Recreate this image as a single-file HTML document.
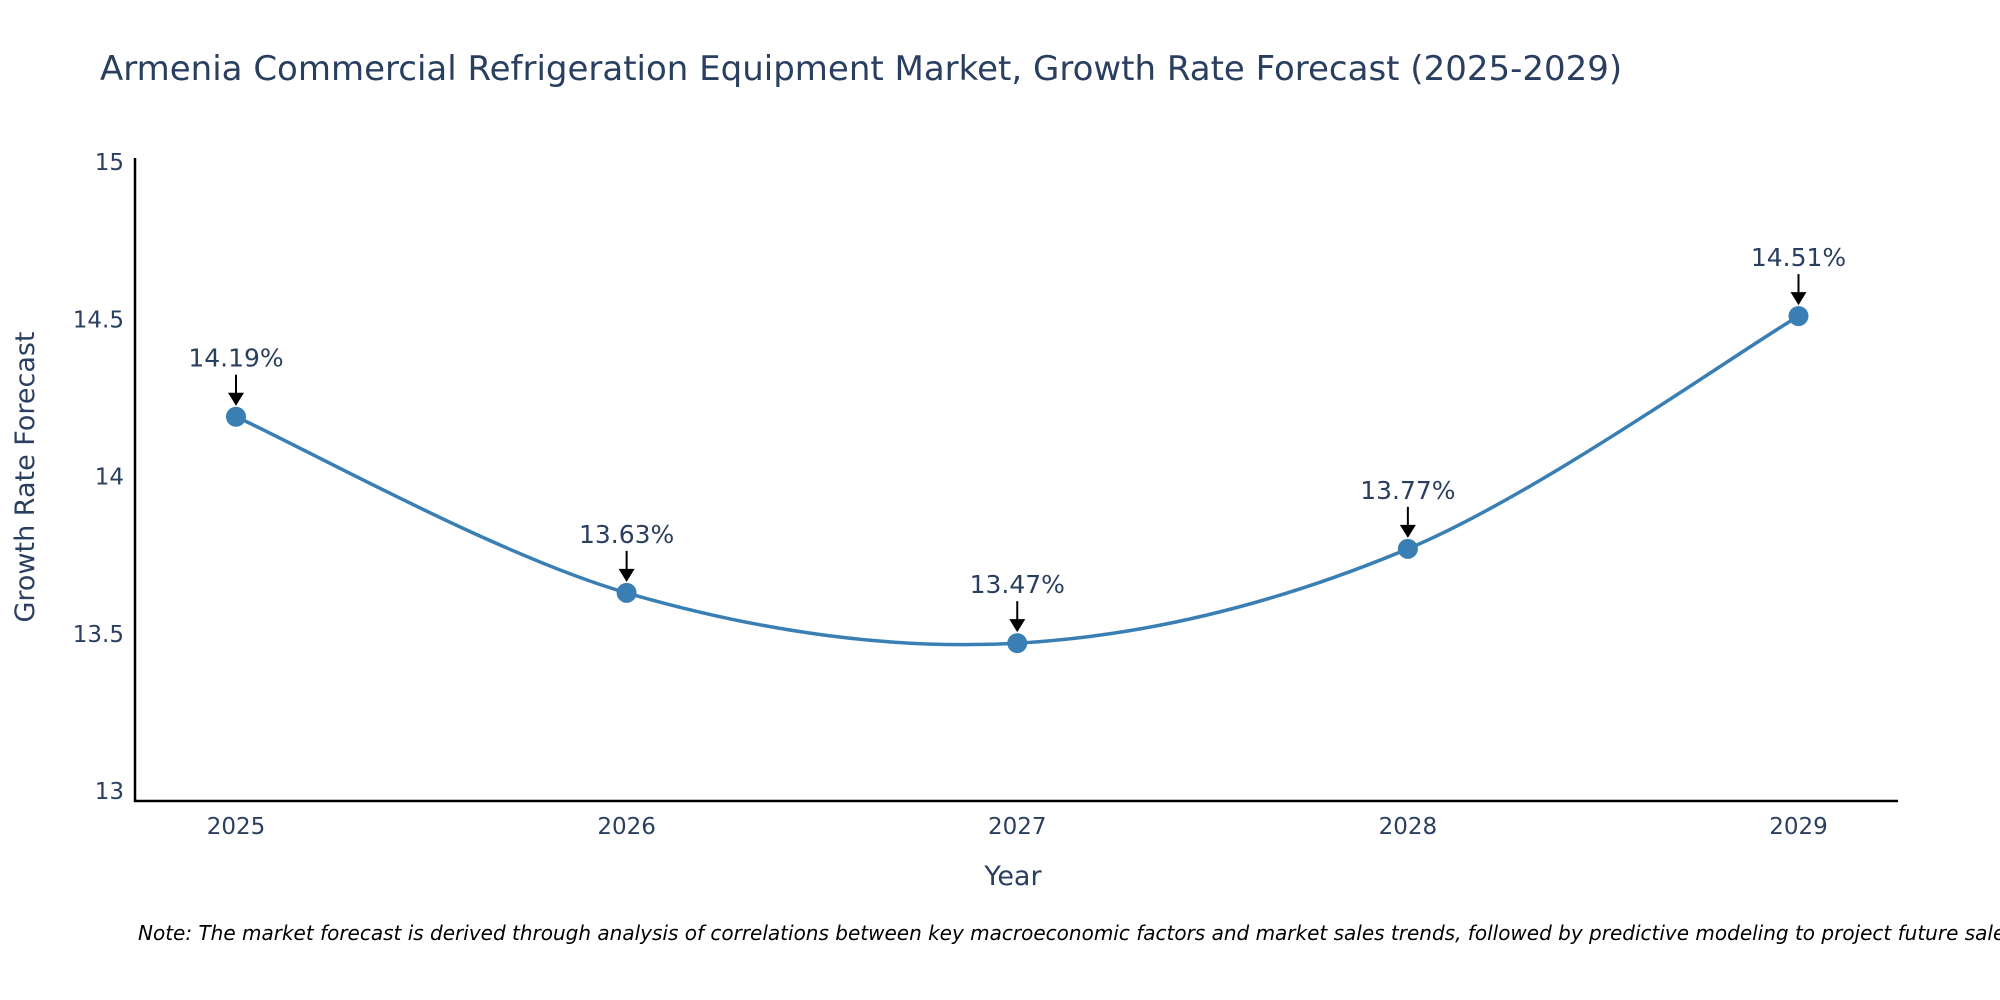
<!DOCTYPE html>
<html><head><meta charset="utf-8"><style>
body{margin:0;background:#fff;}
svg{display:block;font-family:"DejaVu Sans","Liberation Sans",sans-serif;}
</style></head><body>
<svg id="chart" width="2000" height="1000" viewBox="0 0 2000 1000">
<text x="100" y="80" font-size="34" fill="#2a3f5f">Armenia Commercial Refrigeration Equipment Market, Growth Rate Forecast (2025-2029)</text>
<g id="yticks"></g><g id="xticks"></g>
<line x1="135" y1="158" x2="135" y2="802" stroke="#000" stroke-width="2.5"/>
<line x1="134" y1="801" x2="1898" y2="801" stroke="#000" stroke-width="2.5"/>
<text x="1013" y="885" font-size="27" fill="#2a3f5f" text-anchor="middle">Year</text>
<text transform="translate(34,477) rotate(-90)" font-size="27" fill="#2a3f5f" text-anchor="middle">Growth Rate Forecast</text>
<g id="series"></g>
<text x="138" y="940" font-size="20" font-style="italic" fill="#000">Note: The market forecast is derived through analysis of correlations between key macroeconomic factors and market sales trends, followed by predictive modeling to project future sales.</text>
</svg>
<script>
const years=[2025,2026,2027,2028,2029];
const values=[14.19,13.63,13.47,13.77,14.51];
const yTickVals=[13,13.5,14,14.5,15];
const yTickLabels=["13","13.5","14","14.5","15"];
const NS="http://www.w3.org/2000/svg";
function xs(i){return 236+(1798.5-236)*(i-2025)/4;}
function ys(v){return 791-(v-13)*(791-162)/2;}
function mk(tag,attrs,parent){const e=document.createElementNS(NS,tag);for(const k in attrs)e.setAttribute(k,attrs[k]);parent.appendChild(e);return e;}
const yt=document.getElementById('yticks'),xt=document.getElementById('xticks'),sg=document.getElementById('series');
yTickVals.forEach((v,i)=>{const t=mk('text',{x:124,y:ys(v)+8,'font-size':23,fill:'#2a3f5f','text-anchor':'end'},yt);t.textContent=yTickLabels[i];

});
years.forEach(y=>{const t=mk('text',{x:xs(y),y:834,'font-size':23,fill:'#2a3f5f','text-anchor':'middle'},xt);t.textContent=String(y);

});
const pts=years.map((y,i)=>[xs(y),ys(values[i])]);
let d=`M${pts[0][0]},${pts[0][1]}`;const s=1/6;
for(let i=0;i<pts.length-1;i++){const p0=pts[Math.max(0,i-1)],p1=pts[i],p2=pts[i+1],p3=pts[Math.min(pts.length-1,i+2)];
d+=` C${p1[0]+(p2[0]-p0[0])*s},${p1[1]+(p2[1]-p0[1])*s} ${p2[0]-(p3[0]-p1[0])*s},${p2[1]-(p3[1]-p1[1])*s} ${p2[0]},${p2[1]}`;}
const line=mk('path',{d:d,fill:'none',stroke:'#3a7fb4','stroke-width':3.5},sg);


pts.forEach((p,i)=>{
const c=mk('circle',{cx:p[0],cy:p[1],r:10,fill:'#3a7fb4'},sg);


const a=mk('line',{x1:p[0],y1:p[1]-42,x2:p[0],y2:p[1]-22,stroke:'#000','stroke-width':2},sg);


const h=mk('polygon',{points:`${p[0]-8},${p[1]-24} ${p[0]+8},${p[1]-24} ${p[0]},${p[1]-11}`,fill:'#000'},sg);


const t=mk('text',{x:p[0],y:p[1]-50,'font-size':25,fill:'#2a3f5f','text-anchor':'middle'},sg);
t.textContent=values[i].toFixed(2)+'%';

});
</script>
</body></html>
